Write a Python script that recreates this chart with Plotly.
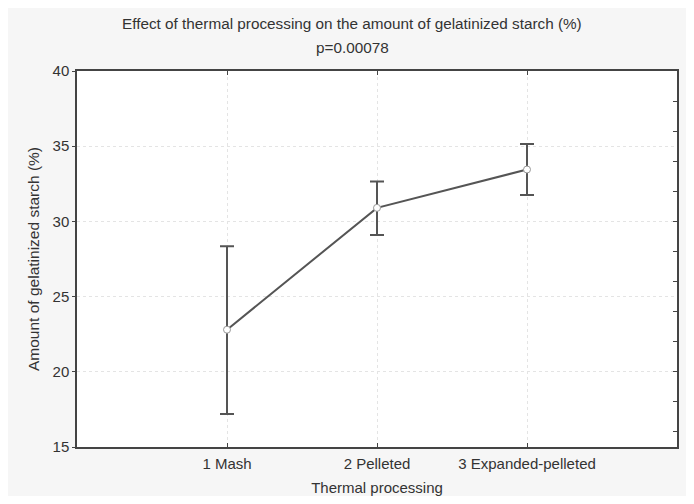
import plotly.graph_objects as go

categories = ["1 Mash", "2 Pelleted", "3 Expanded-pelleted"]
positions = [1, 2, 3]
means = [22.8, 30.9, 33.45]
upper = [28.35, 32.65, 35.15]
lower = [17.2, 29.1, 31.75]

err_plus = [u - m for u, m in zip(upper, means)]
err_minus = [m - l for m, l in zip(means, lower)]

W, H = 678, 488
ML, MR, MT, MB = 69, 9, 63, 49
plot_h = H - MT - MB
plot_w = W - ML - MR

fig = go.Figure()
fig.add_trace(go.Scatter(
    x=positions, y=means, mode="lines+markers",
    line=dict(color="#555555", width=2),
    marker=dict(symbol="circle", size=7, color="white", line=dict(color="#999999", width=1)),
    error_y=dict(type="data", symmetric=False, array=err_plus, arrayminus=err_minus,
                 color="#555555", thickness=2, width=7),
    showlegend=False, hoverinfo="skip",
))
fig.add_trace(go.Scatter(x=[None], y=[None], xaxis="x2", yaxis="y2", showlegend=False))

font = "Liberation Sans, Arial, sans-serif"
txt = "#333333"
fs = 15
fig.update_layout(
    width=W, height=H,
    paper_bgcolor="#f6f6f6", plot_bgcolor="white",
    margin=dict(l=ML, r=MR, t=MT, b=MB, autoexpand=False),
    font=dict(family=font, size=fs, color=txt),
    xaxis=dict(range=[0, 4], tickvals=positions, ticktext=categories,
               showgrid=True, gridcolor="#e4e4e4", griddash="dot", gridwidth=1,
               zeroline=False, showline=True, linecolor="#444444", linewidth=1.5,
               ticks="inside", ticklen=4, tickcolor="#444444", ticklabelstandoff=2,
               title=dict(text="Thermal processing", standoff=19,
                          font=dict(size=fs, color=txt)),
               tickfont=dict(size=fs, color=txt)),
    yaxis=dict(range=[15, 40], tickvals=[15, 20, 25, 30, 35, 40],
               showgrid=True, gridcolor="#e4e4e4", griddash="dot", gridwidth=1,
               zeroline=False, showline=True, linecolor="#444444", linewidth=1.5,
               ticks="outside", ticklen=3, tickcolor="#444444",
               title=dict(text="Amount of gelatinized starch (%)", standoff=9,
                          font=dict(size=fs + 0.5, color=txt)),
               tickfont=dict(size=fs, color=txt)),
    xaxis2=dict(range=[0, 4], overlaying="x", side="top", tickvals=positions,
                showticklabels=False, ticks="inside", ticklen=4, tickcolor="#444444",
                showline=True, linecolor="#444444", linewidth=1.5,
                showgrid=False, zeroline=False),
    yaxis2=dict(range=[15, 40], overlaying="y", side="right", anchor="x2",
                tickvals=list(range(16, 40, 2)),
                showticklabels=False, ticks="inside", ticklen=4, tickcolor="#444444",
                showline=True, linecolor="#444444", linewidth=1.5,
                showgrid=False, zeroline=False),
)

cx = (344 - ML) / plot_w
for text, py in [("Effect of thermal processing on the amount of gelatinized starch (%)", 15),
                 ("p=0.00078", 39)]:
    fig.add_annotation(text=text, x=cx, y=1 + (MT - py) / plot_h, xref="paper", yref="paper",
                       xanchor="center", yanchor="middle", showarrow=False,
                       font=dict(size=15.3, color=txt))

fig.write_html("out.html")
